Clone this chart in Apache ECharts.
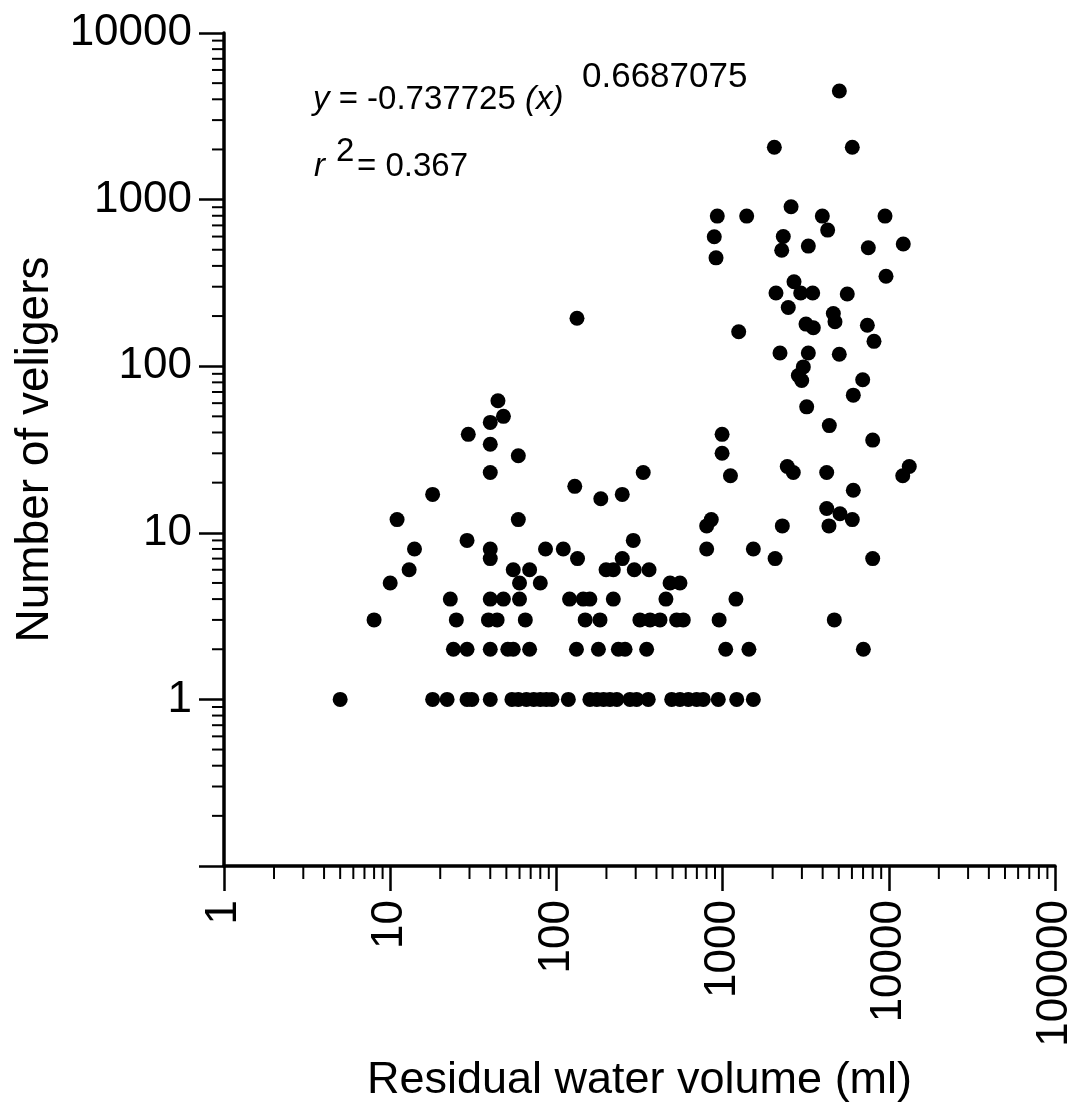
<!DOCTYPE html>
<html>
<head>
<meta charset="utf-8">
<script src="https://cdn.jsdelivr.net/npm/echarts@6/dist/echarts.min.js"></script>
<style>
html,body{margin:0;padding:0;background:#fff;}
#chart{width:1081px;height:1113px;}
</style>
</head>
<body>
<div id="chart"></div>
<script>
// Residual water volume (ml) for each sample, paired with number of veligers
const volumeMl = [
  // veligers = 1
  5, 18, 22, 29, 31, 40, 54, 59, 66, 73, 80, 87, 94, 118, 159, 175, 192, 210, 231, 277, 304, 357, 494, 554, 622, 698, 765, 942, 1216, 1531,
  // veligers = 2
  24, 29, 40, 51, 55, 69, 132, 179, 236, 259, 349, 1044, 1440, 7030,
  // veligers = 3
  8, 25, 39, 44, 65, 149, 183, 318, 366, 420, 529, 580, 953, 4700,
  // veligers = 4
  23, 40, 48, 60, 120, 145, 159, 220, 456, 1203,
  // veligers = 5
  10, 60, 80, 483, 554,
  // veligers = 6
  13, 55, 69, 199, 220, 294, 361,
  // veligers = 7
  40, 134, 249, 2070, 8000,
  // veligers = 8
  14, 40, 86, 110, 802, 1531,
  // veligers = 9
  29, 290,
  // higher counts
  802, 2287, 4365, 11, 59, 855, 6030, 5085, 4230, 185, 18, 249, 6115, 129,
  1115, 12130, 40, 333, 2663, 4230, 2450, 13280, 59, 993, 40, 8000, 29.5, 993,
  4386, 40, 48, 3206, 44.5, 6115, 2992, 6966, 2856, 3060, 5036, 2215, 3280,
  8146, 1250, 3514, 7430, 3175, 4745, 133, 4637, 2484, 5625, 2095, 2951, 3484,
  2690, 9620, 913, 2268, 7530, 3280, 12220, 891, 2318, 4287, 929, 1396, 3981,
  9490, 2582, 2048, 6030, 5040
];
const veligers = [
  1, 1, 1, 1, 1, 1, 1, 1, 1, 1, 1, 1, 1, 1, 1, 1, 1, 1, 1, 1, 1, 1, 1, 1, 1, 1, 1, 1, 1, 1,
  2, 2, 2, 2, 2, 2, 2, 2, 2, 2, 2, 2, 2, 2,
  3, 3, 3, 3, 3, 3, 3, 3, 3, 3, 3, 3, 3, 3,
  4, 4, 4, 4, 4, 4, 4, 4, 4, 4,
  5, 5, 5, 5, 5,
  6, 6, 6, 6, 6, 6, 6,
  7, 7, 7, 7, 7,
  8, 8, 8, 8, 8, 8,
  9, 9,
  11, 11, 11, 12, 12, 12, 12, 13, 14, 16, 17, 17, 18, 19,
  22, 22, 23, 23, 23, 23, 25, 25, 29, 30, 34, 36, 39, 39,
  44, 46, 50, 57, 62, 67, 82, 83, 88, 99, 118, 120, 120,
  141, 161, 170, 176, 179, 185, 194, 207, 225, 271, 275, 275, 275,
  321, 347, 447, 497, 514, 526, 541, 598, 600, 656, 796, 796, 796,
  796, 906, 2060, 2060, 4490
];

// axis tick labels / minor tick positions
const xMajorLabels = ['1', '10', '100', '1000', '10000', '100000'];
const yMajorLabels = ['1', '10', '100', '1000', '10000'];
const minorSteps = [2, 3, 4, 5, 6, 7, 8, 9];
const xDecades = [1, 10, 100, 1000, 10000];
const yDecades = [0.1, 1, 10, 100, 1000];

const FONT = "'Liberation Sans', Arial, Helvetica, sans-serif";

const points = volumeMl.map((v, i) => [v, veligers[i]]);
const xMinor = [];
xDecades.forEach(d => minorSteps.forEach(s => xMinor.push([+(d * s).toPrecision(6), 0.1])));
const yMinor = [];
yDecades.forEach(d => minorSteps.forEach(s => yMinor.push([1, +(d * s).toPrecision(6)])));

const chart = echarts.init(document.getElementById('chart'), null, {renderer: 'canvas'});
chart.setOption({
  backgroundColor: '#fff',
  animation: false,
  grid: {left: 224, right: 26, top: 33, bottom: 247, containLabel: false},
  xAxis: {
    type: 'log', logBase: 10, min: 1, max: 100000,
    name: 'Residual water volume (ml)', nameLocation: 'middle', nameGap: 192,
    nameTextStyle: {fontSize: 45, fontFamily: FONT, color: '#000'},
    axisLine: {show: true, lineStyle: {color: '#000', width: 3.5}},
    axisTick: {show: true, length: 25, lineStyle: {color: '#000', width: 2.5}},
    axisLabel: {
      rotate: 90, margin: 34, fontSize: 44, fontFamily: FONT, color: '#000',
      formatter: v => { const k = Math.round(Math.log10(v)); return xMajorLabels[k] !== undefined ? xMajorLabels[k] : ''; }
    },
    splitLine: {show: false}
  },
  yAxis: {
    type: 'log', logBase: 10, min: 0.1, max: 10000,
    name: 'Number of veligers', nameLocation: 'middle', nameGap: 156,
    nameTextStyle: {fontSize: 46, fontFamily: FONT, color: '#000'},
    axisLine: {show: true, lineStyle: {color: '#000', width: 3.5}},
    axisTick: {show: true, length: 25, lineStyle: {color: '#000', width: 2.5}},
    axisLabel: {
      margin: 32, fontSize: 44, fontFamily: FONT, color: '#000',
      formatter: v => { const k = Math.round(Math.log10(v)); return k >= 0 && yMajorLabels[k] !== undefined ? yMajorLabels[k] : ''; }
    },
    splitLine: {show: false}
  },
  series: [
    {
      type: 'custom', coordinateSystem: 'cartesian2d', clip: false, silent: true, z: 1,
      data: xMinor,
      renderItem: (params, api) => {
        const p = api.coord([api.value(0), api.value(1)]);
        return {type: 'line', shape: {x1: p[0], y1: p[1], x2: p[0], y2: p[1] + 13}, style: {stroke: '#000', lineWidth: 2}};
      }
    },
    {
      type: 'custom', coordinateSystem: 'cartesian2d', clip: false, silent: true, z: 1,
      data: yMinor,
      renderItem: (params, api) => {
        const p = api.coord([api.value(0), api.value(1)]);
        return {type: 'line', shape: {x1: p[0], y1: p[1], x2: p[0] - 12, y2: p[1]}, style: {stroke: '#000', lineWidth: 2}};
      }
    },
    {
      type: 'scatter', data: points, symbol: 'circle', symbolSize: 15,
      itemStyle: {color: '#000', opacity: 1}, z: 3
    }
  ],
  graphic: [
    {type: 'text', left: 313, top: 83, style: {
      text: '{i|y} = -0.737725 {i|(x)}', fill: '#000', font: '33px ' + FONT,
      rich: {i: {fontStyle: 'italic', fontSize: 33, fontFamily: FONT, fill: '#000'}}
    }},
    {type: 'text', left: 582, top: 60, style: {text: '0.6687075', fill: '#000', font: '35px ' + FONT}},
    {type: 'text', left: 314, top: 150, style: {text: 'r', fill: '#000', font: 'italic 33px ' + FONT}},
    {type: 'text', left: 336, top: 135, style: {text: '2', fill: '#000', font: '33px ' + FONT}},
    {type: 'text', left: 357, top: 150, style: {text: '= 0.367', fill: '#000', font: '33px ' + FONT}}
  ]
});
</script>
</body>
</html>
